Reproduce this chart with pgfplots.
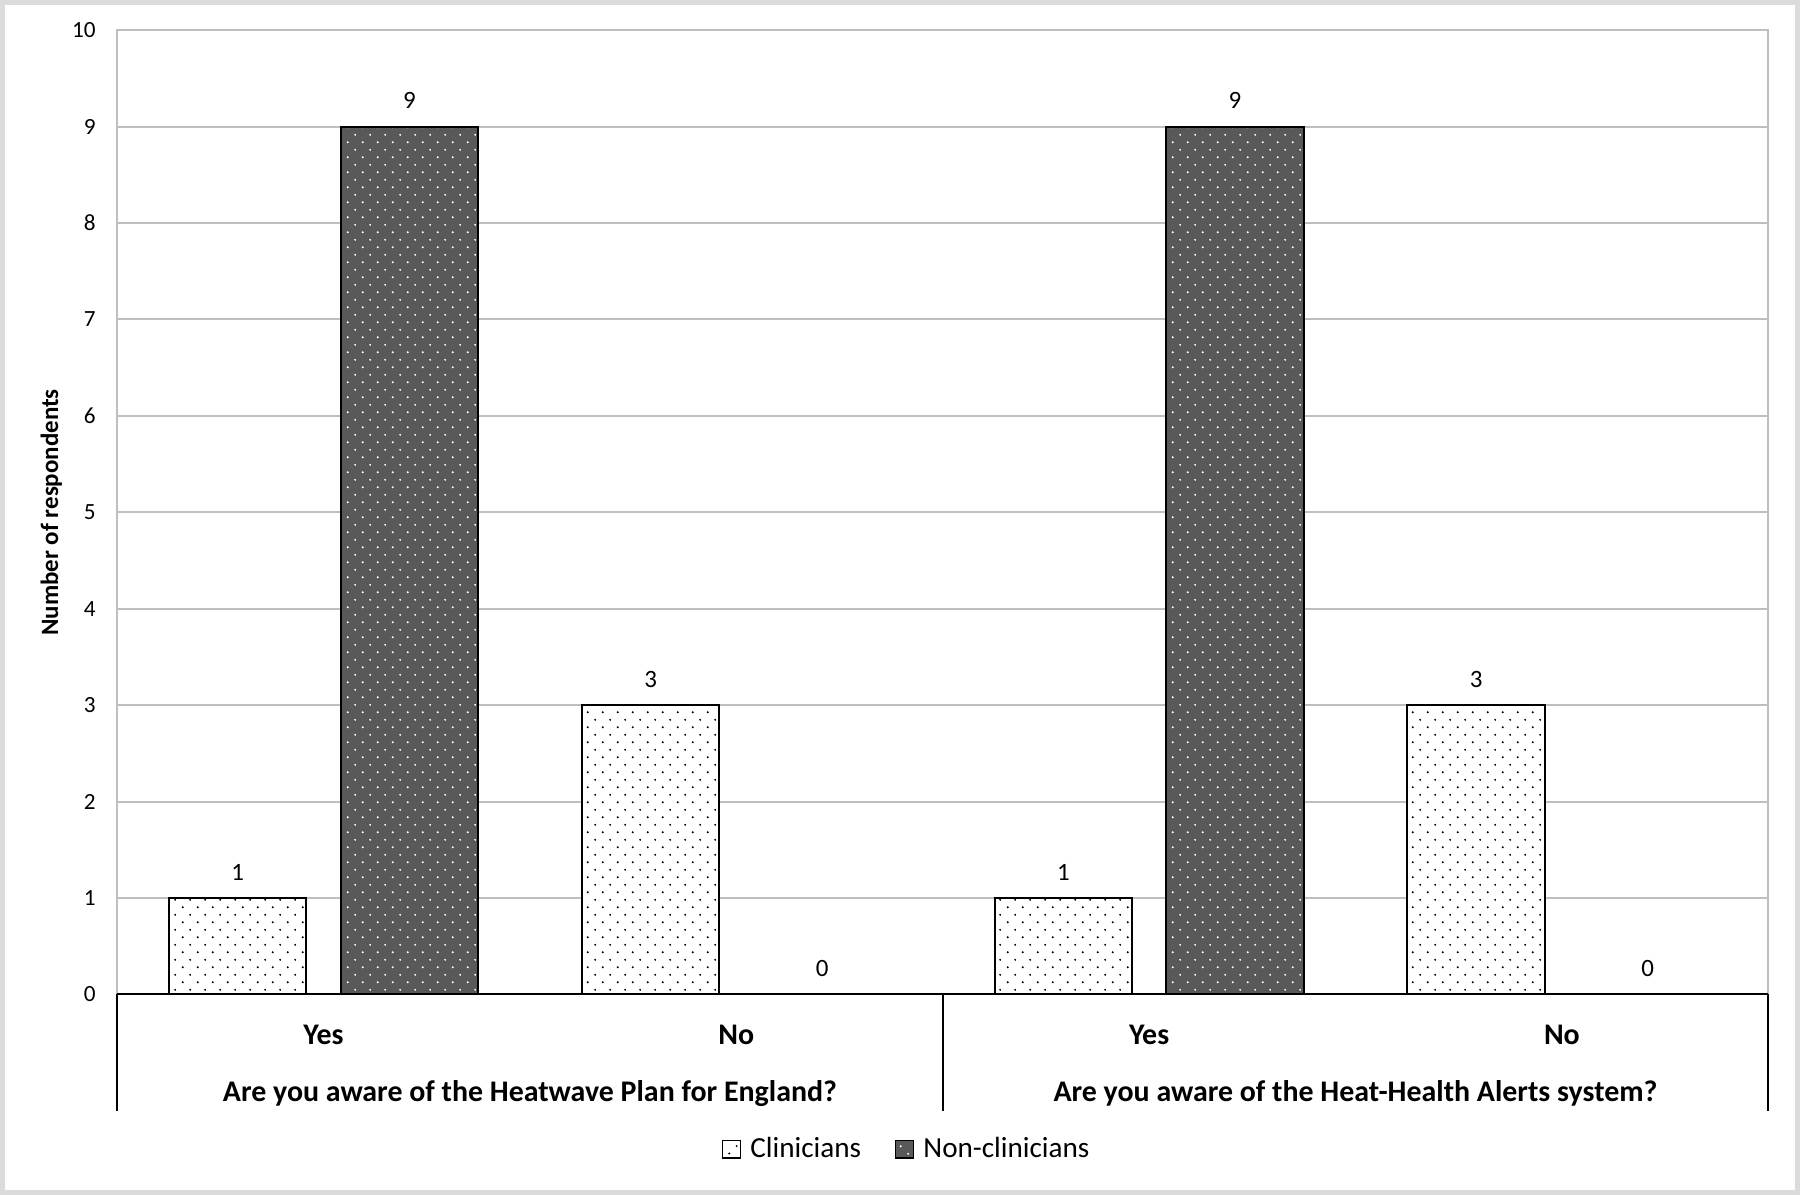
\documentclass[border=0pt]{standalone}
\usepackage{fontspec}
\setmainfont{Carlito}
\usepackage{pgfplots}
\pgfplotsset{compat=1.18}
\usetikzlibrary{patterns.meta}
\definecolor{gridc}{gray}{0.75}
\definecolor{darkbar}{gray}{0.35}
\definecolor{framec}{gray}{0.86}
\tikzdeclarepattern{
  name=stagdots, type=uncolored,
  bounding box={(0pt,0pt) and (6pt,6pt)},
  tile size={(6pt,6pt)},
  code={\fill (1.5pt,1.5pt) circle (0.42pt); \fill (4.5pt,4.5pt) circle (0.42pt);}
}
\pgfplotsset{
  ybar legend/.style={/pgfplots/legend image code/.code={%
    \draw[##1, line width=0.6pt] (0pt,-3.6pt) rectangle (7.2pt,3.6pt); \path (10.7pt,0pt);}},
}
\begin{document}
\begin{tikzpicture}
\begin{axis}[
  scale only axis, width=662.3pt, height=386.8pt,
  xmin=0, xmax=4, ymin=0, ymax=10,
  enlargelimits=false, clip=false,
  ybar=13.7pt, bar width=55.1pt,
  ytick={0,1,...,10},
  xtick={0.5,1.5,2.5,3.5},
  xticklabels={Yes,No,Yes,No},
  major tick length=0pt,
  ymajorgrids, grid style={gridc, line width=0.8pt},
  axis line style={gridc, line width=0.8pt},
  /pgf/number format/assume math mode=true,
  yticklabel style={font=\fontsize{9.3}{11}\selectfont, inner sep=0pt, xshift=-8.4pt},
  xticklabel style={font=\bfseries\fontsize{12}{14}\selectfont, anchor=center, inner sep=0pt, yshift=-16.1pt},
  ylabel={Number of respondents},
  every axis y label/.style={at={(rel axis cs:-0.03986,0.5)}, rotate=90, anchor=center,
    font=\bfseries\fontsize{10}{12}\selectfont},
  nodes near coords,
  nodes near coords style={font=\fontsize{10}{12}\selectfont, inner sep=0pt, yshift=6.8pt, text=black},
  legend columns=2,
  legend style={at={(rel axis cs:0.366,-0.1605)}, anchor=west, draw=none, fill=none,
    font=\fontsize{11.7}{13}\selectfont, inner sep=0pt,
    nodes={inner sep=0pt, anchor=west},
    /tikz/every even column/.append style={column sep=13.6pt}},
]
\addplot[draw=black, line width=0.8pt, fill=white, postaction={pattern=stagdots, pattern color=black}]
  coordinates {(0.5,1) (1.5,3) (2.5,1) (3.5,3)};
\addlegendentry{Clinicians}
\addplot[draw=black, line width=0.8pt, fill=darkbar, postaction={pattern=stagdots, pattern color=white}]
  coordinates {(0.5,9) (1.5,0) (2.5,9) (3.5,0)};
\addlegendentry{Non-clinicians}
\draw[black, line width=0.8pt] (rel axis cs:0,0) -- (rel axis cs:1,0);
\draw[black, line width=0.8pt] (rel axis cs:0,0) -- (rel axis cs:0,-0.1209);
\draw[black, line width=0.8pt] (rel axis cs:0.5,0) -- (rel axis cs:0.5,-0.1209);
\draw[black, line width=0.8pt] (rel axis cs:1,0) -- (rel axis cs:1,-0.1209);
\node[font=\bfseries\fontsize{12}{14}\selectfont, anchor=center] at ([yshift=-39.8pt]axis cs:1,0) {Are you aware of the Heatwave Plan for England?};
\node[font=\bfseries\fontsize{12}{14}\selectfont, anchor=center] at ([yshift=-39.8pt]axis cs:3,0) {Are you aware of the Heat-Health Alerts system?};
\draw[framec, line width=2pt] (rel axis cs:-0.069457,-0.204964) rectangle (rel axis cs:1.017697,1.028749);
\end{axis}
\end{tikzpicture}
\end{document}
